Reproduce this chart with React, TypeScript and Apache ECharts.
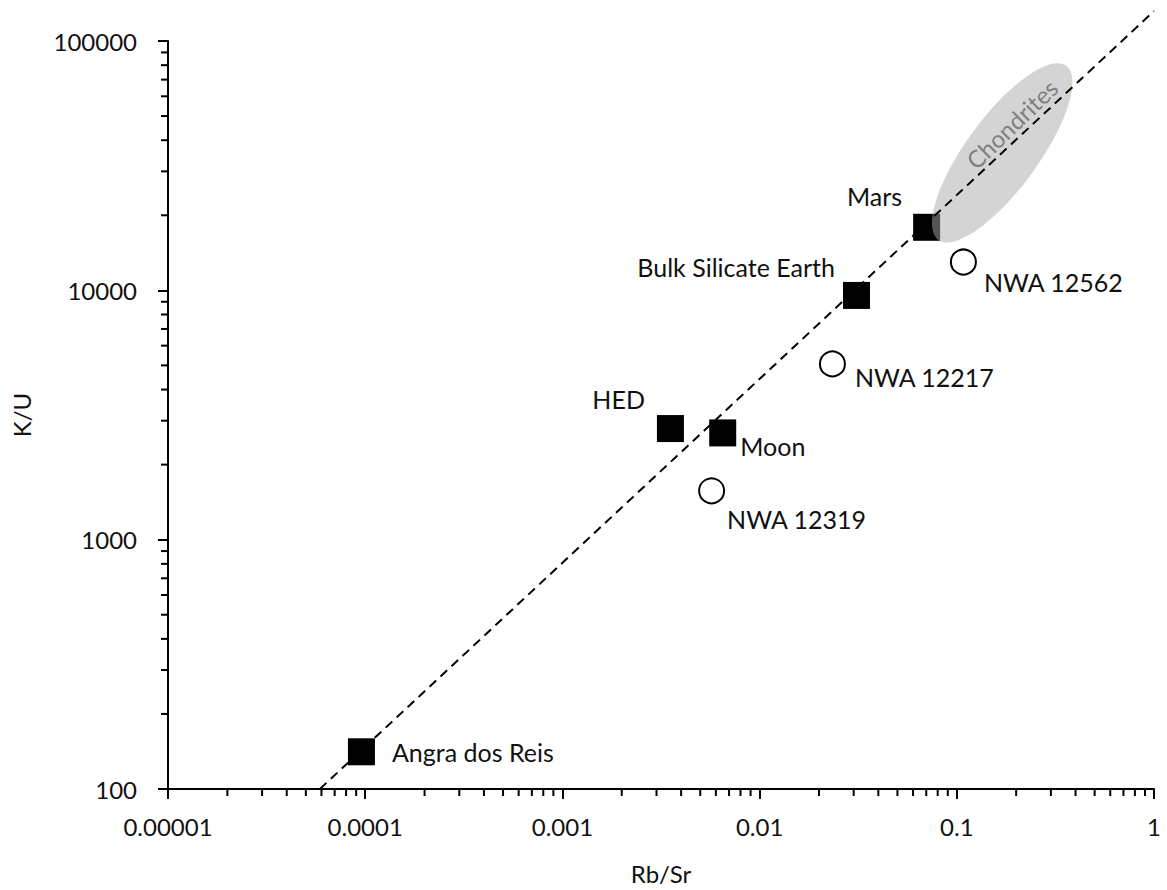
import React, { useEffect, useRef } from "react";
import * as echarts from "echarts";

// ---- data ----
const bodyNames = ["Angra dos Reis", "HED", "Moon", "Bulk Silicate Earth", "Mars"];
const bodyRbSr = [0.0000957, 0.00353, 0.0065, 0.031, 0.0703];
const bodyKU = [141, 2790, 2680, 9540, 17900];

const nwaNames = ["NWA 12319", "NWA 12217", "NWA 12562"];
const nwaRbSr = [0.00571, 0.0234, 0.108];
const nwaKU = [1570, 5070, 12990];

const trendRbSr = [0.0000589, 1];
const trendKU = [100, 131800];

const xTickValues = [0.00001, 0.0001, 0.001, 0.01, 0.1, 1];
const xTickLabels = ["0.00001", "0.0001", "0.001", "0.01", "0.1", "1"];
const yTickValues = [100, 1000, 10000, 100000];
const yTickLabels = ["100", "1000", "10000", "100000"];
const minorMultipliers = [2, 3, 4, 5, 6, 7, 8, 9];

const chondriteCenter = [0.17, 35600];
const chondriteTextAt = [0.19, 46500];

// ---- styles ----
const FONT = "Lato, 'Liberation Sans', sans-serif";
const TEXT = "#111";
const labelPlacement: Record<string, { position: string; offset: number[] }> = {
  "Angra dos Reis": { position: "right", offset: [12, 0] },
  HED: { position: "left", offset: [-7, -30] },
  Moon: { position: "right", offset: [-1, 13] },
  "Bulk Silicate Earth": { position: "left", offset: [-3, -28] },
  Mars: { position: "left", offset: [-6, -31] },
  "NWA 12319": { position: "right", offset: [-3, 28] },
  "NWA 12217": { position: "right", offset: [4, 13] },
  "NWA 12562": { position: "right", offset: [2, 20] },
};

function findLabel(values: number[], labels: string[], v: number) {
  for (let i = 0; i < values.length; i++) {
    if (Math.abs(Math.log10(v / values[i])) < 1e-6) return labels[i];
  }
  return "";
}

function pointData(names: string[], xs: number[], ys: number[]) {
  return names.map((n, i) => ({
    name: n,
    value: [xs[i], ys[i]],
    label: {
      show: true,
      formatter: n,
      position: labelPlacement[n].position,
      offset: labelPlacement[n].offset,
      distance: 5,
      fontSize: 25,
      fontFamily: FONT,
      color: TEXT,
    },
  }));
}

export default function App() {
  const ref = useRef<HTMLDivElement>(null);
  useEffect(() => {
    if (!ref.current) return;
    const chart = echarts.init(ref.current, null, { renderer: "svg" });

    const xMinor: number[][] = [];
    xTickValues.slice(0, -1).forEach((d) =>
      minorMultipliers.forEach((m) => xMinor.push([d * m, yTickValues[0]]))
    );
    const yMinor: number[][] = [];
    yTickValues.slice(0, -1).forEach((d) =>
      minorMultipliers.forEach((m) => yMinor.push([xTickValues[0], d * m]))
    );

    const axisCommon = {
      type: "log" as const,
      logBase: 10,
      splitLine: { show: false },
      axisLine: { show: true, lineStyle: { color: "#000", width: 2 } },
      axisTick: { show: true, length: 10, lineStyle: { color: "#000", width: 2 } },
      nameLocation: "middle" as const,
      nameTextStyle: { fontSize: 24, fontFamily: FONT, color: TEXT },
    };

    chart.setOption({
      animation: false,
      grid: { left: 168, right: 13, top: 41, bottom: 99, containLabel: false },
      xAxis: {
        ...axisCommon,
        min: xTickValues[0],
        max: xTickValues[xTickValues.length - 1],
        name: "Rb/Sr",
        nameGap: 72,
        axisLabel: {
          margin: 25,
          fontSize: 24,
          fontFamily: FONT,
          color: TEXT,
          formatter: (v: number) => findLabel(xTickValues, xTickLabels, v),
        },
      },
      yAxis: {
        ...axisCommon,
        min: yTickValues[0],
        max: yTickValues[yTickValues.length - 1],
        name: "K/U",
        nameRotate: 90,
        nameGap: 135,
        axisLabel: {
          margin: 31,
          fontSize: 24,
          fontFamily: FONT,
          color: TEXT,
          formatter: (v: number) => findLabel(yTickValues, yTickLabels, v),
        },
      },
      series: [
        {
          type: "custom",
          name: "xMinor",
          silent: true,
          clip: false,
          z: 6,
          data: xMinor,
          renderItem: (_p: any, api: any) => {
            const pt = api.coord([api.value(0), api.value(1)]);
            return {
              type: "line",
              shape: { x1: pt[0], y1: pt[1], x2: pt[0], y2: pt[1] + 7 },
              style: { stroke: "#000", lineWidth: 2 },
            };
          },
        },
        {
          type: "custom",
          name: "yMinor",
          silent: true,
          clip: false,
          z: 6,
          data: yMinor,
          renderItem: (_p: any, api: any) => {
            const pt = api.coord([api.value(0), api.value(1)]);
            return {
              type: "line",
              shape: { x1: pt[0] - 7, y1: pt[1], x2: pt[0], y2: pt[1] },
              style: { stroke: "#000", lineWidth: 2 },
            };
          },
        },
        {
          type: "scatter",
          name: "Bodies",
          symbol: "rect",
          symbolSize: 27,
          z: 2,
          itemStyle: { color: "#000", opacity: 1 },
          data: pointData(bodyNames, bodyRbSr, bodyKU),
        },
        {
          type: "scatter",
          name: "NWA",
          symbol: "circle",
          symbolSize: 25,
          z: 2,
          itemStyle: { color: "#fff", borderColor: "#000", borderWidth: 2, opacity: 1 },
          data: pointData(nwaNames, nwaRbSr, nwaKU),
        },
        {
          type: "line",
          name: "Trend",
          clip: false,
          z: 4,
          symbol: "none",
          silent: true,
          lineStyle: { color: "#000", width: 2, type: [9, 6] },
          data: trendRbSr.map((x, i) => [x, trendKU[i]]),
        },
      ],
    });

    const c = chart.convertToPixel({ xAxisIndex: 0, yAxisIndex: 0 }, chondriteCenter) as number[];
    const t = chart.convertToPixel({ xAxisIndex: 0, yAxisIndex: 0 }, chondriteTextAt) as number[];
    chart.setOption({
      graphic: [
        {
          type: "ellipse",
          x: c[0],
          y: c[1],
          rotation: (53.7 * Math.PI) / 180,
          shape: { cx: 0, cy: 0, rx: 108, ry: 36 },
          style: { fill: "rgba(170,170,170,0.5)" },
          z: 3,
          silent: true,
        },
        {
          type: "text",
          x: t[0],
          y: t[1],
          rotation: (44 * Math.PI) / 180,
          style: {
            text: "Chondrites",
            fill: "#7f7f7f",
            fontSize: 24,
            fontFamily: FONT,
            align: "center",
            verticalAlign: "middle",
          },
          z: 5,
          silent: true,
        },
      ],
    });

    return () => chart.dispose();
  }, []);

  return (
    <div
      ref={ref}
      style={{ position: "fixed", left: 0, top: 0, width: 1167, height: 890, background: "#fff" }}
    />
  );
}
